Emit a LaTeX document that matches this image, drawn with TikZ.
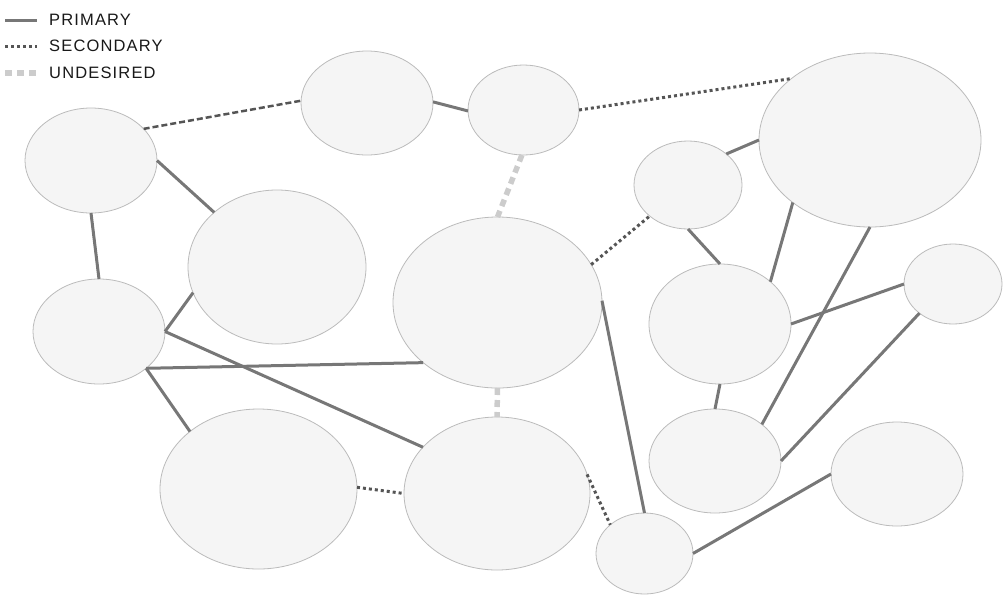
\documentclass[tikz,border=0pt]{standalone}
\usepackage{fontspec}
\newfontfamily\legfont[LetterSpace=7]{Liberation Sans}
\usetikzlibrary{shapes.geometric}
\definecolor{fillc}{HTML}{F5F5F5}
\definecolor{edgec}{HTML}{BBBBBB}
\definecolor{primc}{HTML}{777777}
\definecolor{secc}{HTML}{555555}
\definecolor{undc}{HTML}{CCCCCC}
\tikzset{
  blob/.style={ellipse, draw=edgec, fill=fillc, line width=0.8pt, inner sep=0pt, outer sep=0pt},
  primary/.style={draw=primc, line width=3pt},
  secondary/.style={draw=secc, line width=3pt, dash pattern=on 3pt off 3pt},
  dashedsec/.style={draw=secc, line width=2.5pt, dash pattern=on 6pt off 3pt},
  undesired/.style={draw=undc, line width=5.5pt, dash pattern=on 7pt off 5pt},
  legtext/.style={anchor=west, inner sep=0pt, font=\legfont\fontsize{16.5}{19}\selectfont, text=black!90}
}
\begin{document}
\begin{tikzpicture}[x=1pt,y=1pt]
\useasboundingbox (0,0) rectangle (1003,-595);
% legend
\coordinate (l1a) at (5,-20); \coordinate (l1b) at (37,-20);
\coordinate (l2a) at (5,-46); \coordinate (l2b) at (37,-46);
\coordinate (l3a) at (5,-73); \coordinate (l3b) at (37,-73);
\draw[primary] (l1a) -- (l1b);
\draw[secondary] (l2a) -- (l2b);
\draw[undesired] (l3a) -- (l3b);
\node[legtext] (t1) at (49,-20) {PRIMARY};
\node[legtext] (t2) at (49,-46) {SECONDARY};
\node[legtext] (t3) at (49,-73) {UNDESIRED};
% ellipses
\node[blob, minimum width=132pt, minimum height=105pt] (A) at (91,-160.5) {};
\node[blob, minimum width=132pt, minimum height=104pt] (B) at (367,-103) {};
\node[blob, minimum width=111pt, minimum height=90pt] (C) at (523.5,-110) {};
\node[blob, minimum width=222pt, minimum height=174pt] (D) at (870,-140) {};
\node[blob, minimum width=108pt, minimum height=88pt] (E) at (688,-185) {};
\node[blob, minimum width=178pt, minimum height=154pt] (F) at (277,-267) {};
\node[blob, minimum width=209pt, minimum height=171pt] (G) at (497.5,-302.5) {};
\node[blob, minimum width=132pt, minimum height=105pt] (H) at (99,-331.5) {};
\node[blob, minimum width=142pt, minimum height=120pt] (I) at (720,-324) {};
\node[blob, minimum width=98pt, minimum height=80pt] (J) at (953,-284) {};
\node[blob, minimum width=197pt, minimum height=160pt] (K) at (258.5,-489) {};
\node[blob, minimum width=186pt, minimum height=153pt] (L) at (497,-493.5) {};
\node[blob, minimum width=132pt, minimum height=104pt] (M) at (715,-461) {};
\node[blob, minimum width=97pt, minimum height=81pt] (N) at (644.5,-553.5) {};
\node[blob, minimum width=132pt, minimum height=104pt] (O) at (897,-474) {};
% connectors
\draw[dashedsec] (A.31) -- (B.178);
\draw[primary] (B.1) -- (C.181);
\draw[secondary] (C.0) -- (D.142);
\draw[undesired] (C.268) -- (G.90);
\draw[primary] (A.0) -- (F.139);
\draw[primary] (A.270) -- (H.90);
\draw[primary] (H.0) -- (F.197);
\draw[primary] (H.0) -- (L.148);
\draw[primary] (H.322) -- (G.219);
\draw[primary] (H.322) -- (K.140);
\draw[secondary] (K.1) -- (L.180);
\draw[undesired] (G.270) -- (L.90);
\draw[secondary] (G.22) -- (E.219);
\draw[primary] (G.1.4) -- (N.90);
\draw[secondary] (L.12) -- (N.140);
\draw[primary] (E.39) -- (D.180);
\draw[primary] (E.270) -- (I.90);
\draw[primary] (I.40) -- (D.219);
\draw[primary] (I.0) -- (J.180);
\draw[primary] (I.270) -- (M.90);
\draw[primary] (M.38) -- (D.270);
\draw[primary] (M.0) -- (J.221);
\draw[primary] (N.0) -- (O.180);
\end{tikzpicture}
\end{document}
